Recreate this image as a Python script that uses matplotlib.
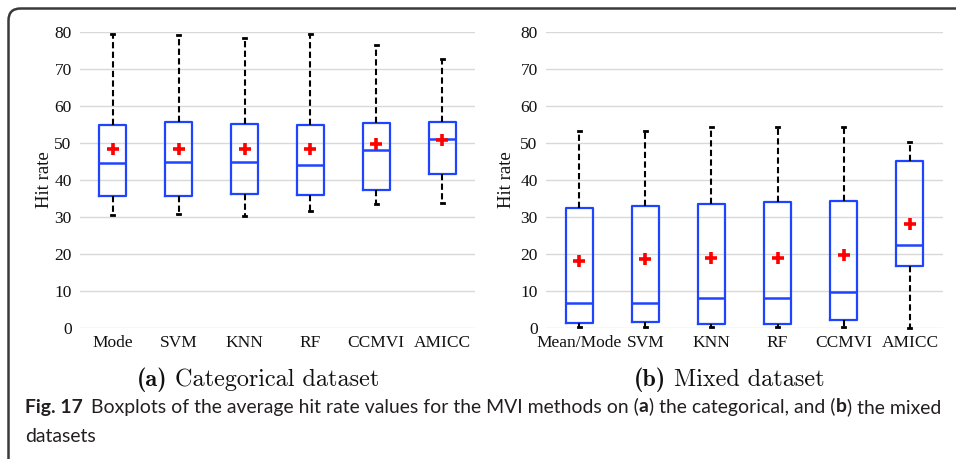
import matplotlib
matplotlib.use("Agg")
import matplotlib.pyplot as plt
from matplotlib.patches import FancyBboxPatch
from matplotlib.transforms import IdentityTransform

# ---- data ----
cat_methods = ["Mode", "SVM", "KNN", "RF", "CCMVI", "AMICC"]
cat_whislo = [30.4, 30.8, 30.2, 31.6, 33.5, 33.8]
cat_q1     = [35.6, 35.6, 36.3, 36.0, 37.3, 41.7]
cat_med    = [44.5, 44.7, 44.7, 44.0, 48.0, 50.9]
cat_q3     = [54.8, 55.5, 55.2, 54.9, 55.4, 55.6]
cat_whishi = [79.5, 79.2, 78.2, 79.5, 76.5, 72.7]
cat_mean   = [48.3, 48.4, 48.3, 48.4, 49.6, 50.7]

mix_methods = ["Mean/Mode", "SVM", "KNN", "RF", "CCMVI", "AMICC"]
mix_whislo = [0.3, 0.3, 0.3, 0.3, 0.3, 0.0]
mix_q1     = [1.3, 1.6, 1.0, 1.0, 2.1, 16.8]
mix_med    = [6.8, 6.8, 8.0, 8.0, 9.8, 22.3]
mix_q3     = [32.4, 32.9, 33.6, 34.0, 34.2, 45.1]
mix_whishi = [53.1, 53.3, 54.2, 54.2, 54.3, 50.2]
mix_mean   = [18.2, 18.5, 18.8, 18.9, 19.6, 28.0]

y_ticks = [0, 10, 20, 30, 40, 50, 60, 70, 80]

BLUE = "#1f44ff"
SERIF = "Liberation Serif"
W, H = 956, 459

fig = plt.figure(figsize=(9.56, 4.59), dpi=100)
fig.patch.set_facecolor("white")


def make_stats(labels, lo, q1, med, q3, hi, mean):
    return [dict(label=l, whislo=a, q1=b, med=c, q3=d, whishi=e, mean=m, fliers=[])
            for l, a, b, c, d, e, m in zip(labels, lo, q1, med, q3, hi, mean)]


def draw_panel(rect, labels, lo, q1, med, q3, hi, mean):
    ax = fig.add_axes(rect)
    stats = make_stats(labels, lo, q1, med, q3, hi, mean)
    arts = ax.bxp(stats, positions=range(1, len(labels) + 1), widths=0.41,
                  showmeans=True, showfliers=False, capwidths=0.045,
                  boxprops=dict(color=BLUE, linewidth=1.6),
                  medianprops=dict(color=BLUE, linewidth=1.8),
                  whiskerprops=dict(color="black", linewidth=1.5, linestyle=(0, (3, 1.6))),
                  capprops=dict(color="black", linewidth=2.0),
                  meanprops=dict(marker="+", markersize=9, markeredgewidth=2.6,
                                 markeredgecolor="#ff0000", linestyle="none"))
    for group in arts.values():
        for a in group:
            a.set_clip_on(False)
    ax.set_xlim(0.5, len(labels) + 0.5)
    ax.set_ylim(0, 80)
    ax.set_yticks(y_ticks)
    ax.yaxis.grid(True, color="#d9d9d9", linewidth=1.0)
    ax.set_axisbelow(True)
    for s in ax.spines.values():
        s.set_visible(False)
    ax.tick_params(axis="both", length=0, labelsize=12.5, labelcolor="#111111")
    ax.tick_params(axis="y", pad=6)
    ax.tick_params(axis="x", pad=5)
    ax.set_xticklabels(labels)
    for t in ax.get_xticklabels() + ax.get_yticklabels():
        t.set_fontfamily(SERIF)
    ax.set_ylabel("Hit rate", fontfamily=SERIF, fontsize=13.5, color="#111111")
    return ax


ax1 = draw_panel([80 / W, 1 - 328 / H, 395 / W, 296.3 / H], cat_methods,
                 cat_whislo, cat_q1, cat_med, cat_q3, cat_whishi, cat_mean)
ax2 = draw_panel([546 / W, 1 - 328 / H, 397 / W, 296.3 / H], mix_methods,
                 mix_whislo, mix_q1, mix_med, mix_q3, mix_whishi, mix_mean)
ax1.yaxis.set_label_coords(-0.069, 0.5)
ax2.yaxis.set_label_coords(-0.077, 0.5)

fig.canvas.draw()
renderer = fig.canvas.get_renderer()


def run_text(x0_px, y_px, pieces, size, color):
    """pieces: list of (text, family, weight, gap_before_px_at_14pt)."""
    arts = []
    x = x0_px
    for txt, fam, weight, gap in pieces:
        x += gap * size / 14
        t = fig.text(x / W, 1 - y_px / H, txt, fontsize=size, family=fam,
                     fontweight=weight, ha="left", va="center", color=color)
        x = t.get_window_extent(renderer).x1
        arts.append(t)
    return arts, x


def fitted_run(x0, x1, y, pieces, color, size0=14):
    arts, xe = run_text(x0, y, pieces, size0, color)
    for a in arts:
        a.remove()
    size = size0 * (x1 - x0) / (xe - x0)
    run_text(x0, y, pieces, size, color)
    return size


CMB = ["cmb10", "DejaVu Serif"]
CMR = ["cmr10", "DejaVu Serif"]
sub_size = fitted_run(137, 379, 380,
                      [("(a)", CMB, "normal", 0), ("Categorical dataset", CMR, "normal", 6)],
                      "#111111")
run_text(634, 380, [("(b)", CMB, "normal", 0), ("Mixed dataset", CMR, "normal", 6)],
         sub_size, "#111111")

# figure caption
cap_fam = ["Lato", "Open Sans", "DejaVu Sans"]
cap_color = "#231f20"
line1 = [("Fig. 17", cap_fam, "bold", 0),
         ("Boxplots of the average hit rate values for the MVI methods on (", cap_fam, "normal", 8),
         ("a", cap_fam, "bold", 0.3),
         (") the categorical, and (", cap_fam, "normal", 0.3),
         ("b", cap_fam, "bold", 0.3),
         (") the mixed", cap_fam, "normal", 0.3)]
cap_size = fitted_run(25, 942, 407, line1, cap_color)
run_text(25, 437, [("datasets", cap_fam, "normal", 0)], cap_size, cap_color)

# rounded frame (top and left edges visible)
frame = FancyBboxPatch((8.5, -30), 1000, 480.5,
                       boxstyle="round,pad=0,rounding_size=12",
                       transform=IdentityTransform(), fill=False,
                       edgecolor="#3a3a3a", linewidth=1.8)
fig.add_artist(frame)

fig.savefig("out.png", dpi=100)
